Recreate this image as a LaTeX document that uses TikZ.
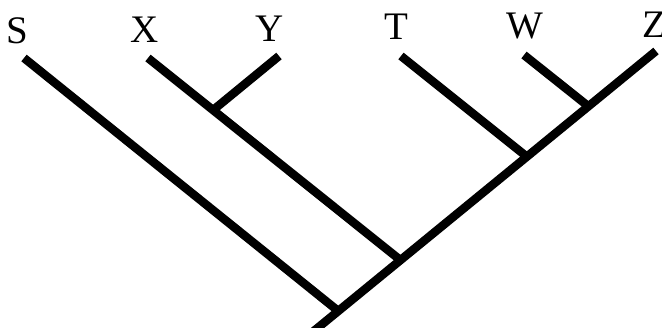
\documentclass[tikz,border=0pt]{standalone}
\usepackage{fontspec}
\setmainfont{Liberation Serif}
\begin{document}
\begin{tikzpicture}[x=1pt,y=-1pt,
  branch/.style={line width=8.5pt},
  taxon/.style={anchor=base,inner sep=0pt,font=\fontsize{39}{39}\selectfont}]
\useasboundingbox (0,0) rectangle (662,328);
% tips
\coordinate (tS) at (24,58);
\coordinate (tX) at (148,58);
\coordinate (tY) at (279,56);
\coordinate (tT) at (401,56);
\coordinate (tW) at (524,55);
\coordinate (tZ) at (656,51);
\coordinate (root) at (309,335);
% junctions
\coordinate (jS) at (337,310);
\coordinate (jX) at (399,259);
\coordinate (jT) at (526,156);
\coordinate (jW) at (588,106);
\coordinate (jXY) at (212,111);
% taxa
\node[taxon] (S) at (17,44) {S};
\node[taxon] (X) at (145,43) {X};
\node[taxon] (Y) at (270,42) {Y};
\node[taxon] (T) at (396,40) {T};
\node[taxon] (W) at (525,39) {W};
\node[taxon] (Z) at (654,38) {Z};
% branches
\draw[branch] (root) -- (tZ);
\draw[branch] (tS) -- (jS);
\draw[branch] (tX) -- (jX);
\draw[branch] (tY) -- (jXY);
\draw[branch] (tT) -- (jT);
\draw[branch] (tW) -- (jW);

\end{tikzpicture}
\end{document}
